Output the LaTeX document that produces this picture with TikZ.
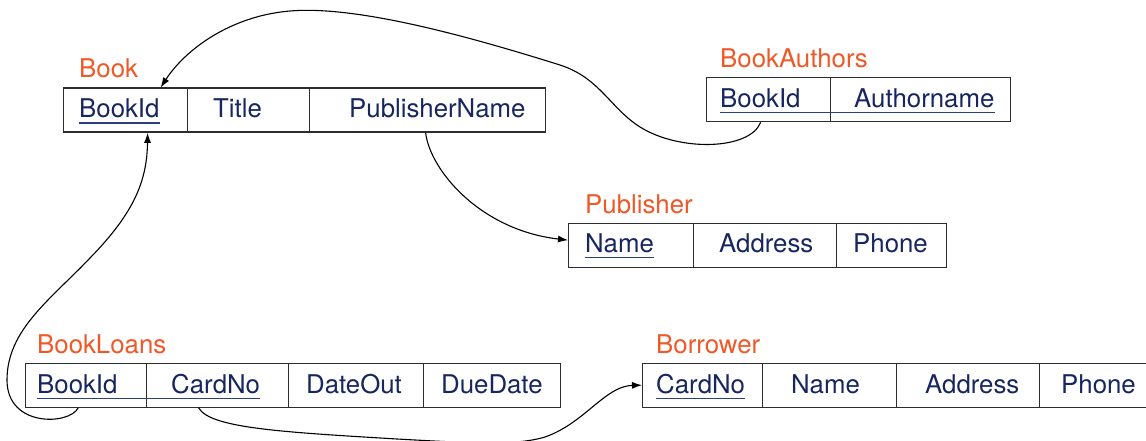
\documentclass[tikz,border=0pt]{standalone}
\usepackage{fontspec}
\setmainfont{TeX Gyre Heros}
\usetikzlibrary{arrows.meta}
\definecolor{attrcol}{RGB}{24,38,96}
\definecolor{ulcol}{RGB}{44,62,130}
\definecolor{relcol}{RGB}{240,88,40}
\definecolor{boxcol}{RGB}{45,45,45}
\tikzset{
  cell/.style={draw=boxcol, line width=1.3pt, minimum height=44pt, inner sep=0pt, anchor=north west},
  attr/.style={text=attrcol, font=\fontsize{25.8}{30}\selectfont, inner sep=0pt, anchor=base west},
  relname/.style={text=relcol, font=\fontsize{25.8}{30}\selectfont, inner sep=0pt, anchor=base west},
  ul/.style={draw=ulcol, line width=1.2pt},
  fk/.style={draw=black, line width=1.1pt, -{Latex[length=10pt,width=7pt]}}
}
\begin{document}
\begin{tikzpicture}[x=1pt,y=-1pt]
\clip (0,0) rectangle (1146,441);
\fill[white] (0,0) rectangle (1146,441);

% Book
\node[relname] (bookL) at (79,78) {Book};
\node[cell, minimum width=124pt] (b1) at (63,87.5) {};
\node[cell, minimum width=122pt] (b2) at (187,87.5) {};
\node[cell, minimum width=236pt] (b3) at (309,87.5) {};
\node[attr] (bt1) at (79,118) {BookId};
\node[attr] (bt2) at (213,118) {Title};
\node[attr] (bt3) at (349,118) {PublisherName};
\draw[ul] ([yshift=-5pt]bt1.base west) -- ([yshift=-5pt]bt1.base east);

% BookAuthors
\node[relname] (baL) at (720,68) {BookAuthors};
\node[cell, minimum width=124pt] (a1) at (706,77) {};
\node[cell, minimum width=180pt] (a2) at (830,77) {};
\node[attr] (at1) at (720,107.5) {BookId};
\node[attr] (at2) at (854,107.5) {Authorname};
\draw[ul] ([yshift=-5pt]at1.base west) -- ([yshift=-5pt]at2.base east);

% Publisher
\node[relname] (pubL) at (585,213) {Publisher};
\node[cell, minimum width=125pt] (p1) at (568,222.5) {};
\node[cell, minimum width=143pt] (p2) at (693,222.5) {};
\node[cell, minimum width=110pt] (p3) at (836,222.5) {};
\node[attr] (pt1) at (585,252.5) {Name};
\node[attr] (pt2) at (719,252.5) {Address};
\node[attr] (pt3) at (853,252.5) {Phone};
\draw[ul] ([yshift=-5pt]pt1.base west) -- ([yshift=-5pt]pt1.base east);

% BookLoans
\node[relname] (blL) at (37,353) {BookLoans};
\node[cell, minimum width=121pt] (l1) at (25,362.5) {};
\node[cell, minimum width=142pt] (l2) at (146,362.5) {};
\node[cell, minimum width=135pt] (l3) at (288,362.5) {};
\node[cell, minimum width=137pt] (l4) at (423,362.5) {};
\node[attr] (lt1) at (37,393.5) {BookId};
\node[attr] (lt2) at (171,393.5) {CardNo};
\node[attr] (lt3) at (306,393.5) {DateOut};
\node[attr] (lt4) at (441,393.5) {DueDate};
\draw[ul] ([yshift=-5pt]lt1.base west) -- ([yshift=-5pt]lt2.base east);

% Borrower
\node[relname] (boL) at (656,353) {Borrower};
\node[cell, minimum width=120pt] (r1) at (642,362.5) {};
\node[cell, minimum width=134pt] (r2) at (762,362.5) {};
\node[cell, minimum width=143pt] (r3) at (896,362.5) {};
\node[cell, minimum width=125pt] (r4) at (1039,362.5) {};
\node[attr] (rt1) at (656,393.5) {CardNo};
\node[attr] (rt2) at (791,393.5) {Name};
\node[attr] (rt3) at (925,393.5) {Address};
\node[attr] (rt4) at (1061,393.5) {Phone};
\draw[ul] ([yshift=-5pt]rt1.base west) -- ([yshift=-5pt]rt1.base east);

% foreign keys
\draw[fk] ([xshift=-8pt]a1.south)
  .. controls (750,150) and (680,152) .. (640,127)
  .. controls (610,108) and (600,78) .. (560,65)
  .. controls (480,40) and (360,5) .. (290,11)
  .. controls (230,16) and (185,50) .. ([xshift=35pt]b1.north);

\draw[fk] ([xshift=-2pt]b3.south)
  .. controls (430,170) and (480,230) .. ([yshift=5pt]p1.west);

\draw[fk] ([xshift=-8pt]l1.south)
  .. controls (70,425) and (7,428) .. (7,380)
  .. controls (7,330) and (50,300) .. (90,258)
  .. controls (135,212) and (147,180) .. ([xshift=22pt]b1.south);

\draw[fk] ([xshift=-19pt]l2.south)
  .. controls (210,428) and (280,432) .. (397,439)
  .. controls (470,443) and (515,446) .. (545,437)
  .. controls (585,423) and (605,386) .. (r1.west);
\end{tikzpicture}
\end{document}
